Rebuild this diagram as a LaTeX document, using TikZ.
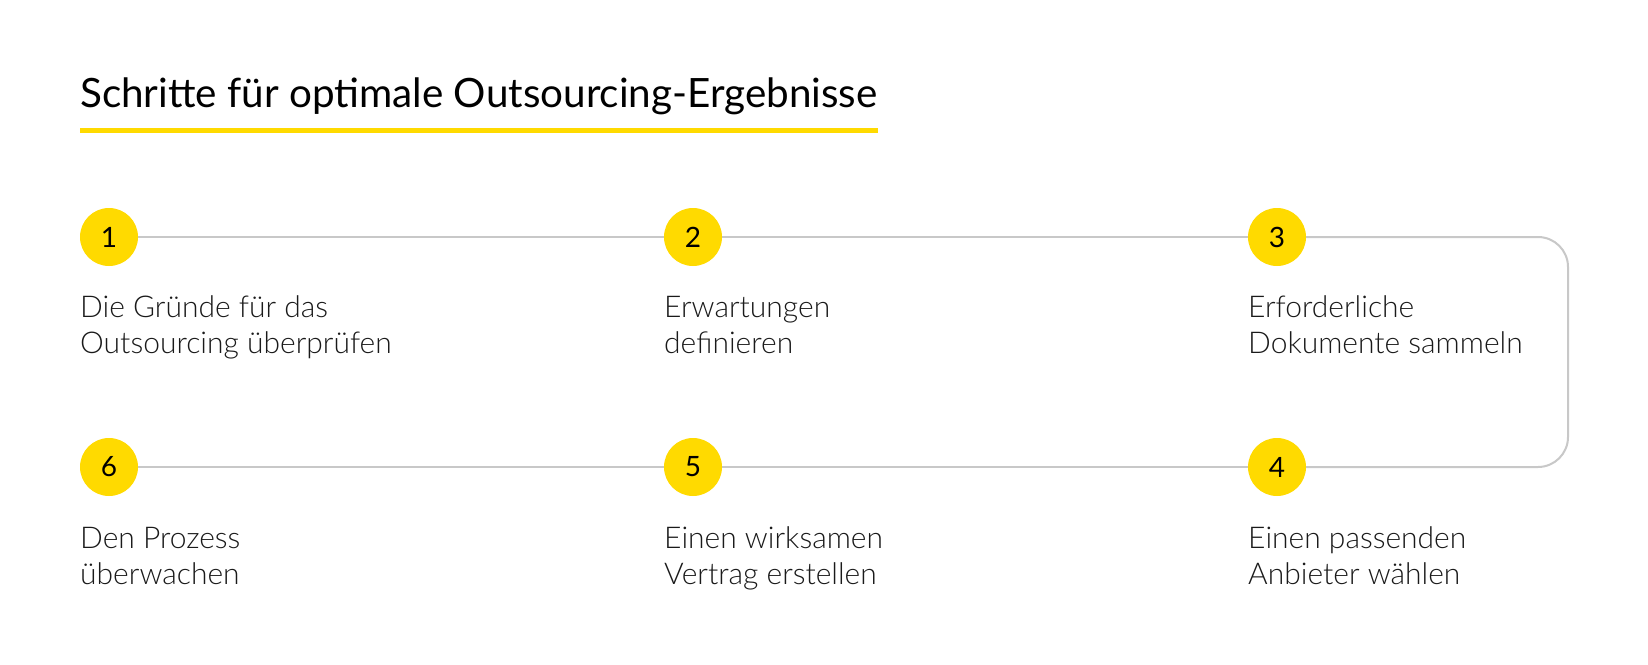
\documentclass[tikz,border=0pt]{standalone}
\usepackage{fontspec}
\setmainfont{Lato}
\newfontfamily\lightfont{Lato Light}
\definecolor{yel}{HTML}{FFDA00}
\definecolor{conn}{HTML}{C8C8C8}
\definecolor{txt}{HTML}{1A1A1A}
\begin{document}
\begin{tikzpicture}[x=1pt,y=-1pt,
  stepcircle/.style={circle,fill=yel,minimum size=58pt,inner sep=0pt,font=\fontsize{28}{30}\selectfont,text=black},
  steptext/.style={anchor=base west,inner sep=0pt,align=left,text=txt,font=\lightfont\fontsize{30}{36}\selectfont},
  connline/.style={draw=conn,line width=2pt},
  ]
\useasboundingbox[fill=white] (0,0) rectangle (1648,664);
\node[anchor=base west,inner sep=0pt,font=\fontsize{40.4}{44}\selectfont] (title) at (80,107) {Schritte für optimale Outsourcing-Ergebnisse};
\coordinate (ul1) at (80,130.5);
\coordinate (ul2) at (878,130.5);
\draw[yel,line width=5pt] (ul1) -- (ul2);

\node[stepcircle] (c1) at (109,237) {1};
\node[stepcircle] (c2) at (693,237) {2};
\node[stepcircle] (c3) at (1277,237) {3};
\node[stepcircle] (c4) at (1277,467) {4};
\node[stepcircle] (c5) at (693,467) {5};
\node[stepcircle] (c6) at (109,467) {6};

\coordinate (xr) at (1568,0);
\draw[connline] (c1.east) -- (c2.west);
\draw[connline] (c2.east) -- (c3.west);
\draw[connline,rounded corners=30pt] (c3.east) -- (c3.east -| xr) -- (c4.east -| xr) -- (c4.east);
\draw[connline] (c4.west) -- (c5.east);
\draw[connline] (c5.west) -- (c6.east);

\node[steptext] (t1) at (80,353) {Die Gründe für das\\Outsourcing überprüfen};
\node[steptext] (t2) at (664,353) {Erwartungen\\definieren};
\node[steptext] (t3) at (1248,353) {Erforderliche\\Dokumente sammeln};
\node[steptext] (t6) at (80,584) {Den Prozess\\überwachen};
\node[steptext] (t5) at (664,584) {Einen wirksamen\\Vertrag erstellen};
\node[steptext] (t4) at (1248,584) {Einen passenden\\Anbieter wählen};
\end{tikzpicture}
\end{document}
